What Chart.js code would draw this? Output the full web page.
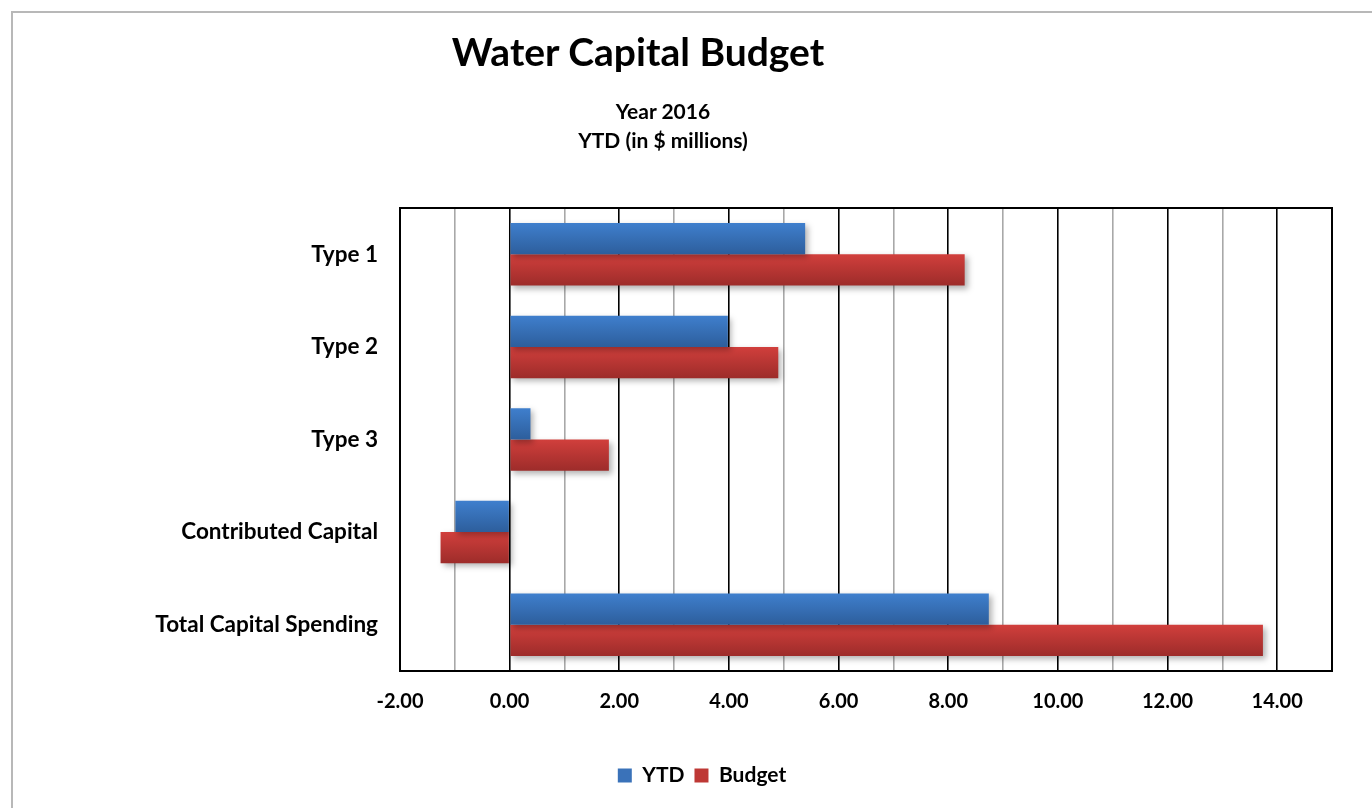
<!DOCTYPE html>
<html>
<head>
<meta charset="utf-8">
<script src="https://cdn.jsdelivr.net/npm/chart.js"></script>
<style>
    body { margin: 0; background: #fff; overflow: hidden; width: 1372px; height: 808px; position: relative; }
    #frame { position: absolute; left: 11px; top: 11px; width: 1400px; height: 840px; border: 2px solid #b8b8b8; }
    #myChart { position: absolute; left: 12px; top: 12px; }
    .title { position: absolute; font-family: Lato, "Open Sans", sans-serif; font-weight: 700; color: #000; white-space: nowrap; text-align: center; }
    #mainTitle { left: 638px; top: 28px; font-size: 39px; transform: translateX(-50%); }
    #subTitle { left: 663px; top: 96px; font-size: 21px; line-height: 29px; transform: translateX(-50%); }
</style>
</head>
<body>
<div id="frame"></div>
<canvas id="myChart" width="1360" height="796"></canvas>
<div class="title" id="mainTitle">Water Capital Budget</div>
<div class="title" id="subTitle">Year 2016<br>YTD (in $ millions)</div>

<script>
    // Data (in $ millions)
    var categories = ['Type 1', 'Type 2', 'Type 3', 'Contributed Capital', 'Total Capital Spending'];
    var ytdValues = [5.39, 3.98, 0.38, -0.99, 8.74];
    var budgetValues = [8.30, 4.90, 1.81, -1.26, 13.74];
    var seriesNames = ['YTD', 'Budget'];

    var FONT = 'Lato, "Open Sans", sans-serif';

    // top/bottom shade of each series
    var shades = [
        ['#3f7fcd', '#2d5e9c'],
        ['#d13f3c', '#9d2c2a']
    ];

    // vertical gradient on each bar + soft drop shadow
    var barStyle = {
        id: 'barStyle',
        beforeDatasetDraw: function(chart, args) {
            var ctx = chart.ctx;
            var meta = args.meta;
            var s = shades[args.index];
            meta.data.forEach(function(el) {
                var top = el.y - el.height / 2;
                var g = ctx.createLinearGradient(0, top, 0, top + el.height);
                g.addColorStop(0, s[0]);
                g.addColorStop(1, s[1]);
                el.options = Object.assign({}, el.options, { backgroundColor: g });
            });
            ctx.save();
            ctx.shadowColor = 'rgba(0,0,0,0.3)';
            ctx.shadowBlur = 6;
            ctx.shadowOffsetX = 3;
            ctx.shadowOffsetY = 3;
        },
        afterDatasetDraw: function(chart) {
            chart.ctx.restore();
        }
    };

    // black frame around the plot area
    var plotFrame = {
        id: 'plotFrame',
        afterDraw: function(chart) {
            var a = chart.chartArea;
            var ctx = chart.ctx;
            ctx.save();
            ctx.strokeStyle = '#000';
            ctx.lineWidth = 2;
            ctx.strokeRect(a.left, a.top, a.right - a.left, a.bottom - a.top);
            ctx.restore();
        }
    };

    var ctx = document.getElementById('myChart').getContext('2d');
    var chart = new Chart(ctx, {
        type: 'bar',
        data: {
            labels: categories,
            datasets: [{
                label: seriesNames[0],
                data: ytdValues,
                backgroundColor: '#3a72b9'
            }, {
                label: seriesNames[1],
                data: budgetValues,
                backgroundColor: '#be3835'
            }]
        },
        options: {
            indexAxis: 'y',
            responsive: false,
            animation: false,
            categoryPercentage: 0.675,
            barPercentage: 1,
            layout: { padding: { top: 196, right: 40, bottom: 12, left: 60 } },
            scales: {
                x: {
                    min: -2,
                    max: 15,
                    afterFit: function(scale) { scale.height = 84; },
                    ticks: {
                        stepSize: 1,
                        autoSkip: false,
                        maxRotation: 0,
                        padding: 19,
                        color: '#000',
                        font: { family: FONT, weight: 'bold', size: 20 },
                        callback: function(v) {
                            return (v % 2 === 0 && v < 15) ? v.toFixed(2) : '';
                        }
                    },
                    grid: {
                        drawTicks: false,
                        color: function(c) {
                            return (c.tick && c.tick.value % 2 === 0) ? '#000' : '#a8a8a8';
                        },
                        lineWidth: 1.6
                    },
                    border: { display: true, color: '#000', width: 2 }
                },
                y: {
                    afterFit: function(scale) { scale.width = 328; },
                    ticks: {
                        padding: 22,
                        color: '#000',
                        font: { family: FONT, weight: 'bold', size: 22.5 }
                    },
                    grid: { display: false, drawTicks: false },
                    border: { display: false }
                }
            },
            plugins: {
                legend: {
                    position: 'bottom',
                    labels: {
                        boxWidth: 14,
                        boxHeight: 14,
                        padding: 10,
                        color: '#000',
                        font: { family: FONT, weight: 'bold', size: 21 }
                    }
                },
                title: { display: false },
                tooltip: { enabled: false }
            }
        },
        plugins: [barStyle, plotFrame]
    });
</script>
</body>
</html>
